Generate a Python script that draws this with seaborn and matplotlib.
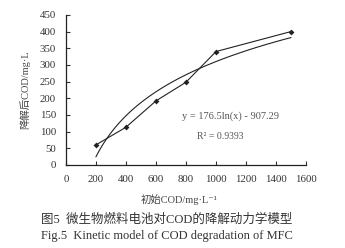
import matplotlib
matplotlib.use("Agg")
import matplotlib.pyplot as plt
import seaborn as sns
import pandas as pd

initial_cod = [200, 400, 600, 800, 1000, 1500]
degraded_cod = [60, 113, 192, 248, 340, 400]
x_ticks = [0, 200, 400, 600, 800, 1000, 1200, 1400, 1600]
y_ticks = [0, 50, 100, 150, 200, 250, 300, 350, 400, 450]

sns.set_theme(style="white")
fam = ['Liberation Serif', 'Noto Sans CJK SC', 'DejaVu Sans']
plt.rcParams['font.family'] = fam

df = pd.DataFrame({"x": initial_cod, "y": degraded_cod})

fig = plt.figure(figsize=(3.45, 2.48), dpi=100)
ax = fig.add_axes([0.191, 0.335, 0.696, 0.605])

sns.lineplot(data=df, x="x", y="y", ax=ax, color="#222222", lw=0.8,
             marker="D", markersize=3, markeredgewidth=0)
sns.regplot(data=df, x="x", y="y", ax=ax, logx=True, ci=None, scatter=False,
            line_kws=dict(color="#222222", lw=0.8))

ax.set_xlim(0, 1600)
ax.set_ylim(0, 450)
ax.set_xticks(x_ticks)
ax.set_yticks(y_ticks)
ax.tick_params(direction='in', length=3, width=0.8, labelsize=7.8, pad=7,
               colors='#333333', left=True, bottom=True)
for s in ['top', 'right']:
    ax.spines[s].set_visible(False)
for s in ['left', 'bottom']:
    ax.spines[s].set_color('#222222')
    ax.spines[s].set_linewidth(0.9)

ax.set_xlabel("")
ax.set_ylabel("")
fig.text(0.072, 0.64, "降解后COD/mg·L", rotation=90, ha='center', va='center',
         fontsize=7.5, color='#444444', family=fam)
fig.text(0.52, 0.195, "初始COD/mg·L⁻¹", ha='center', va='center',
         fontsize=7.5, color='#444444', family=fam)
ax.text(0.485, 0.31, "y = 176.5ln(x) - 907.29", transform=ax.transAxes,
        fontsize=7.5, color='#555555', family=fam)
ax.text(0.545, 0.17, "R² = 0.9393", transform=ax.transAxes,
        fontsize=7, color='#555555', family=fam)
fig.text(0.12, 0.115, "图5  微生物燃料电池对COD的降解动力学模型", ha='left', va='center',
         fontsize=9, color='#333333', family=fam)
fig.text(0.12, 0.05, "Fig.5  Kinetic model of COD degradation of MFC", ha='left', va='center',
         fontsize=9, color='#333333', family=fam)

fig.savefig("out.png", dpi=100)
